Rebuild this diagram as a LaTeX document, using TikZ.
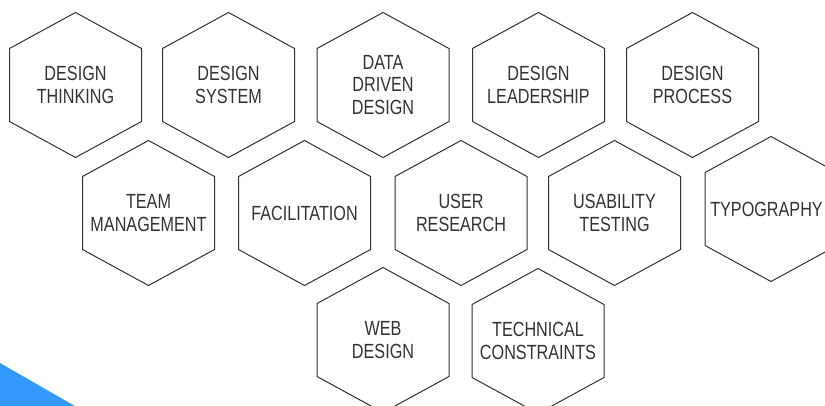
\documentclass[tikz,border=0pt]{standalone}
\usepackage{fontspec}
\setmainfont[FakeStretch=0.79]{Liberation Sans}
\definecolor{hexgray}{HTML}{333333}
\definecolor{cornerblue}{HTML}{3399FF}
\tikzset{
    hexline/.style={draw=hexgray, line width=1pt},
    hexlabel/.style={text=hexgray, align=center, font=\fontsize{20.5}{22.5}\selectfont}
}

\begin{document}
\begin{tikzpicture}[x=1pt, y=-1pt]
    \useasboundingbox (0,0) rectangle (825,406);
    \clip (0,0) rectangle (825,406);
    \fill[cornerblue] (0,363) -- (80,409) -- (0,409) -- cycle;
    % name / centre x / centre y / label shift / label
    \foreach \name/\x/\y/\dx/\txt in {
        thinking/75.5/85/0/{DESIGN\\THINKING},
        system/228.5/85/0/{DESIGN\\SYSTEM},
        datadriven/383/85/0/{DATA\\DRIVEN\\DESIGN},
        leadership/538.5/85/0/{DESIGN\\LEADERSHIP},
        process/692.5/85/0/{DESIGN\\PROCESS},
        team/148.5/213/0/{TEAM\\MANAGEMENT},
        facilitation/304.5/213/0/{FACILITATION},
        research/461/213/0/{USER\\RESEARCH},
        usability/614.5/213/0/{USABILITY\\TESTING},
        typography/771/209/-4.5/{TYPOGRAPHY},
        web/383/340/0/{WEB\\DESIGN},
        technical/538/341/0/{TECHNICAL\\CONSTRAINTS}}{
        \node[hexlabel] (\name) at (\x+\dx,\y) {\txt};
        \draw[hexline] (\x,\y) +(0,-72.5) -- +(66,-36.5) -- +(66,36.5)
            -- +(0,72.5) -- +(-66,36.5) -- +(-66,-36.5) -- cycle;
    }
\end{tikzpicture}
\end{document}
